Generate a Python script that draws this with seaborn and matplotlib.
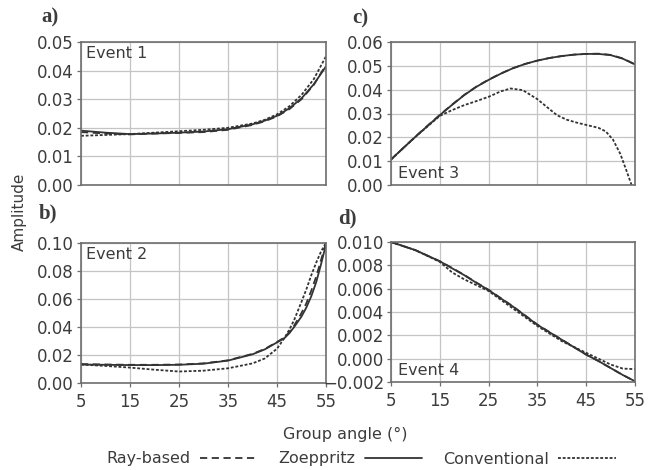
import matplotlib
matplotlib.use("Agg")
import matplotlib.pyplot as plt
from matplotlib.lines import Line2D
from matplotlib.ticker import FuncFormatter, MultipleLocator
import numpy as np
import pandas as pd
import seaborn as sns

# ---- data: amplitude vs group angle for four events ----
angles_1 = [5, 10, 15, 20, 25, 30, 35, 40, 42.5, 45, 47.5, 50, 52.5, 55]
ray_1 = [0.0185, 0.0180, 0.0177, 0.0180, 0.0182, 0.0185, 0.0193, 0.0210, 0.0223, 0.0240, 0.0265, 0.0300, 0.0350, 0.0420]
zoe_1 = [0.0190, 0.0183, 0.0178, 0.0180, 0.0183, 0.0187, 0.0195, 0.0212, 0.0225, 0.0242, 0.0268, 0.0303, 0.0352, 0.0415]
conv_1 = [0.0172, 0.0175, 0.0178, 0.0183, 0.0188, 0.0193, 0.0200, 0.0215, 0.0228, 0.0247, 0.0275, 0.0315, 0.0370, 0.0450]

angles_2 = [5, 10, 15, 20, 25, 30, 35, 40, 42.5, 45, 46.5, 47.5, 48.5, 50, 51, 52, 53, 54, 55]
ray_2 = [0.0135, 0.0132, 0.0130, 0.0130, 0.0132, 0.0140, 0.0162, 0.0208, 0.0243, 0.0293, 0.0325, 0.0362, 0.0410, 0.0500, 0.0570, 0.0660, 0.0760, 0.0880, 0.1000]
zoe_2 = [0.0132, 0.0130, 0.0128, 0.0128, 0.0130, 0.0138, 0.0160, 0.0205, 0.0240, 0.0290, 0.0320, 0.0355, 0.0400, 0.0475, 0.0540, 0.0620, 0.0720, 0.0850, 0.0990]
conv_2 = [0.0132, 0.0122, 0.0110, 0.0095, 0.0082, 0.0088, 0.0105, 0.0140, 0.0175, 0.0245, 0.0320, 0.0380, 0.0450, 0.0580, 0.0670, 0.0770, 0.0860, 0.0940, 0.1000]

angles_3 = [5, 7.5, 10, 12.5, 15, 17.5, 20, 22.5, 25, 27.5, 30, 32.5, 35, 37.5, 40, 42.5, 45, 47.5, 50, 52.5, 55]
ray_3 = [0.0107, 0.0155, 0.0203, 0.0249, 0.0294, 0.0337, 0.0378, 0.0413, 0.0442, 0.0468, 0.0490, 0.0508, 0.0522, 0.0533, 0.0541, 0.0547, 0.0550, 0.0551, 0.0546, 0.0531, 0.0506]
zoe_3 = [0.0107, 0.0155, 0.0202, 0.0248, 0.0293, 0.0336, 0.0377, 0.0412, 0.0441, 0.0467, 0.0490, 0.0508, 0.0522, 0.0533, 0.0541, 0.0547, 0.0550, 0.0550, 0.0545, 0.0530, 0.0506]
angles_3c = [5, 10, 15, 17.5, 20, 22.5, 25, 27.5, 29.5, 32, 35, 37.5, 39, 41, 43, 45, 47.5, 49, 50.5, 52, 53.2, 54.3]
conv_3 = [0.0107, 0.0202, 0.0290, 0.0314, 0.0335, 0.0352, 0.0370, 0.0393, 0.0405, 0.0398, 0.0360, 0.0318, 0.0293, 0.0274, 0.0262, 0.0252, 0.0240, 0.0225, 0.0190, 0.0130, 0.0063, 0.0000]

angles_4 = [5, 10, 15, 17.5, 20, 22.5, 25, 30, 35, 40, 45, 47.5, 50, 52.5, 55]
ray_4 = [0.0100, 0.0093, 0.00835, 0.00778, 0.00718, 0.00652, 0.00590, 0.00448, 0.00292, 0.00163, 0.00035, -0.00020, -0.00080, -0.00140, -0.00194]
zoe_4 = [0.0100, 0.0093, 0.00835, 0.00775, 0.00716, 0.00650, 0.00588, 0.00446, 0.00290, 0.00162, 0.00034, -0.00020, -0.00080, -0.00140, -0.00194]
conv_4 = [0.0100, 0.0093, 0.0083, 0.0074, 0.0068, 0.0063, 0.0058, 0.0043, 0.0028, 0.0015, 0.0005, 0.0000, -0.0005, -0.00085, -0.0009]

methods = ["Ray-based", "Zoeppritz", "Conventional"]
x_ticks = [5, 15, 25, 35, 45, 55]

panels = [
    # (panel letter, event label, curves, y-limits, y-step, decimals, event label at top?)
    ("a)", "Event 1", [(angles_1, ray_1), (angles_1, zoe_1), (angles_1, conv_1)], (0.0, 0.05), 0.01, 2, True),
    ("b)", "Event 2", [(angles_2, ray_2), (angles_2, zoe_2), (angles_2, conv_2)], (0.0, 0.10), 0.02, 2, True),
    ("c)", "Event 3", [(angles_3, ray_3), (angles_3, zoe_3), (angles_3c, conv_3)], (0.0, 0.06), 0.01, 2, False),
    ("d)", "Event 4", [(angles_4, ray_4), (angles_4, zoe_4), (angles_4, conv_4)], (-0.002, 0.010), 0.002, 3, False),
]

# ---- style ----
sns.set_style("white")
plt.rcParams["font.family"] = ["DejaVu Sans"]
TEXT = "#3c3c3c"
LINE = "#333333"
FRAME = "#6e6e6e"
GRID = "#c4c4c4"
dash_styles = {"Ray-based": (4, 2.5), "Zoeppritz": "", "Conventional": (1.6, 1.0)}

W, H = 660, 470
fig = plt.figure(figsize=(W / 100, H / 100), dpi=100)


def frac_box(x0, y0, x1, y1):
    return [x0 / W, 1 - y1 / H, (x1 - x0) / W, (y1 - y0) / H]


boxes = {
    "a)": frac_box(81, 42, 326, 185),
    "b)": frac_box(81, 243, 326, 383),
    "c)": frac_box(391, 42, 635, 185),
    "d)": frac_box(391, 242, 635, 382),
}
letter_pos = {"a)": (41, 17), "b)": (39, 213), "c)": (352, 18), "d)": (338, 218)}

for letter, event, curves, ylim, ystep, dec, top_label in panels:
    ax = fig.add_axes(boxes[letter])
    frames = []
    for m, (xs, ys) in zip(methods, curves):
        frames.append(pd.DataFrame({"angle": xs, "amplitude": ys, "method": m}))
    df = pd.concat(frames, ignore_index=True)
    sns.lineplot(data=df, x="angle", y="amplitude", style="method",
                 style_order=methods, dashes=dash_styles, color=LINE,
                 linewidth=1.3, estimator=None, sort=False, legend=False, ax=ax)

    ax.set_xlim(5, 55)
    ax.set_ylim(*ylim)
    ax.set_xticks(x_ticks)
    ax.yaxis.set_major_locator(MultipleLocator(ystep))
    fmt = "{:.%df}" % dec
    ax.yaxis.set_major_formatter(FuncFormatter(lambda v, p, f=fmt: f.format(v).replace("-", "\u2212")))
    ax.grid(True, color=GRID, linewidth=0.9)
    ax.set_axisbelow(True)
    for s in ax.spines.values():
        s.set_color(FRAME)
        s.set_linewidth(1.2)
        s.set_visible(True)
    ax.tick_params(axis="both", which="major", length=3, width=0.9, color=FRAME,
                   labelsize=12, labelcolor=TEXT, pad=2, direction="out",
                   bottom=True, left=True)
    ax.tick_params(axis="x", pad=4)
    ax.set_xlabel("")
    ax.set_ylabel("")
    if letter in ("a)", "c)"):
        ax.tick_params(axis="x", labelbottom=False, length=0)

    if top_label:
        ax.text(0.02, 0.97, event, transform=ax.transAxes, ha="left", va="top",
                fontsize=11.5, color=TEXT)
    else:
        ax.text(0.03, 0.03, event, transform=ax.transAxes, ha="left", va="bottom",
                fontsize=11.5, color=TEXT)

    lx, ly = letter_pos[letter]
    fig.text(lx / W, 1 - ly / H, letter, ha="left", va="center",
             fontsize=15, fontweight="bold", family=["Liberation Serif"], color=TEXT)

fig.text(19 / W, 1 - 212 / H, "Amplitude", rotation=90, ha="center", va="center",
         fontsize=11, color=TEXT)
fig.text(345 / W, 1 - 434 / H, "Group angle (\u00b0)", ha="center", va="center",
         fontsize=11.5, color=TEXT)

handles = [Line2D([], [], color=LINE, linewidth=1.3,
                  linestyle=(0, dash_styles[m]) if dash_styles[m] else "-")
           for m in methods]
fig.legend(handles, methods, loc="center", bbox_to_anchor=(361 / W, 1 - 459 / H),
           ncol=3, frameon=False, markerfirst=False, handlelength=3.6,
           handletextpad=0.6, columnspacing=1.3, fontsize=11.5, labelcolor=TEXT)

fig.savefig("out.png", dpi=100)
